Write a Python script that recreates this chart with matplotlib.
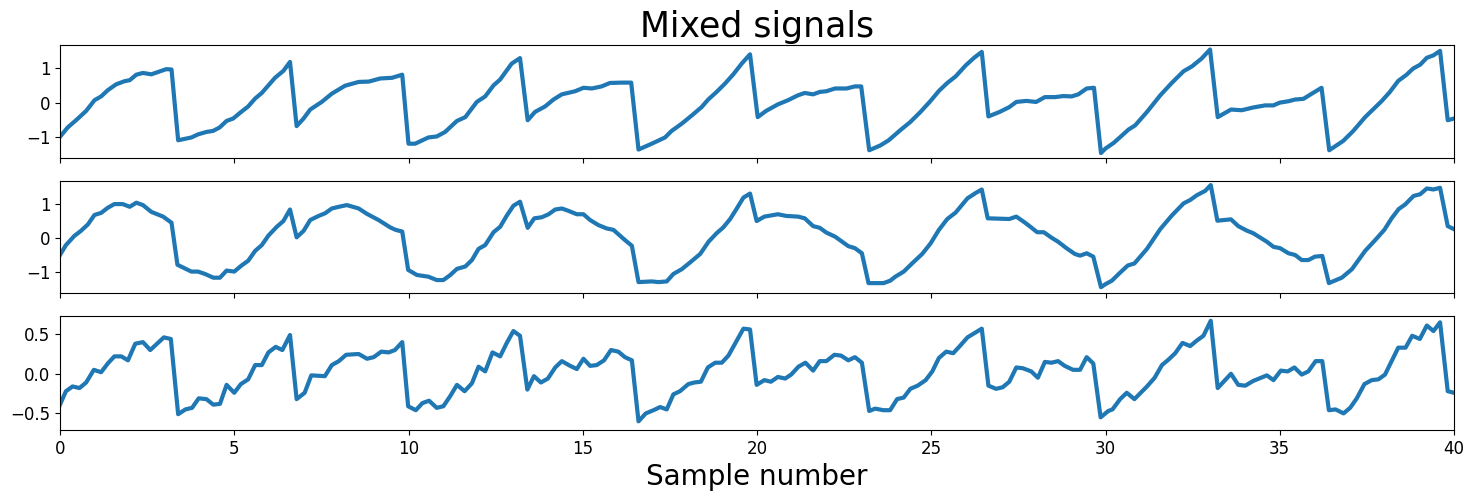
import matplotlib
matplotlib.use("Agg")
import matplotlib.pyplot as plt

# values (sample number, amplitude)
x1 = [0, 0.22, 0.46, 0.75, 0.99, 1.18, 1.37, 1.61, 1.85, 2.0, 2.19, 2.38, 2.62, 2.91, 3.05, 3.2,
      3.39, 3.77, 3.96, 4.2, 4.39, 4.58, 4.78, 4.97, 5.16, 5.4, 5.6, 5.79, 5.98, 6.17, 6.41, 6.6,
      6.79, 6.99, 7.18, 7.51, 7.8, 8.18, 8.57, 8.86, 9.19, 9.53, 9.82,
      10.0, 10.19, 10.57, 10.81, 11.05, 11.39, 11.63, 11.96, 12.2, 12.44, 12.63, 12.96, 13.2,
      13.42, 13.63, 13.92, 14.16, 14.4, 14.78, 15.02, 15.26, 15.54, 15.78, 16.12, 16.39,
      16.6, 16.98, 17.36, 17.55, 17.84, 18.13, 18.41, 18.6, 18.84, 19.08, 19.32, 19.56, 19.8,
      20.02, 20.26, 20.6, 20.89, 21.17, 21.37, 21.61, 21.8, 21.99, 22.24, 22.57, 22.81, 22.99,
      23.22, 23.54, 23.78, 24.11, 24.4, 24.69, 24.98, 25.22, 25.46, 25.7, 25.99, 26.23, 26.45,
      26.64, 26.96, 27.24, 27.44, 27.73, 28.01, 28.26, 28.55, 28.79, 29.03, 29.22, 29.46, 29.67,
      29.87, 30.0, 30.23, 30.42, 30.66, 30.85, 31.19, 31.57, 31.9, 32.24, 32.48, 32.76, 33.0,
      33.22, 33.6, 33.91, 34.24, 34.58, 34.82, 35.0, 35.25, 35.44, 35.68, 35.92, 36.2,
      36.42, 36.82, 37.11, 37.45, 37.93, 38.16, 38.4, 38.64, 38.83, 39.03, 39.22, 39.41, 39.6,
      39.82, 40.0]
y1 = [-0.99, -0.72, -0.51, -0.24, 0.07, 0.18, 0.36, 0.53, 0.62, 0.65, 0.81, 0.86, 0.82, 0.92, 0.97, 0.96,
      -1.09, -1.01, -0.92, -0.85, -0.82, -0.72, -0.53, -0.46, -0.30, -0.11, 0.12, 0.28, 0.50, 0.72, 0.92, 1.18,
      -0.68, -0.46, -0.20, 0.02, 0.26, 0.49, 0.60, 0.61, 0.70, 0.72, 0.81,
      -1.19, -1.19, -1.01, -0.98, -0.85, -0.53, -0.42, 0.02, 0.18, 0.50, 0.67, 1.13, 1.29,
      -0.51, -0.27, -0.11, 0.09, 0.24, 0.33, 0.43, 0.41, 0.47, 0.57, 0.58, 0.58,
      -1.36, -1.19, -1.01, -0.82, -0.61, -0.37, -0.13, 0.09, 0.31, 0.55, 0.82, 1.13, 1.40,
      -0.42, -0.24, -0.05, 0.07, 0.21, 0.28, 0.24, 0.31, 0.33, 0.41, 0.41, 0.47, 0.47,
      -1.38, -1.24, -1.09, -0.80, -0.56, -0.27, 0.05, 0.34, 0.57, 0.76, 1.08, 1.30, 1.47,
      -0.40, -0.27, -0.13, 0.02, 0.05, 0.02, 0.16, 0.16, 0.19, 0.18, 0.24, 0.41, 0.43,
      -1.46, -1.33, -1.17, -1.00, -0.78, -0.66, -0.27, 0.21, 0.57, 0.91, 1.05, 1.28, 1.54,
      -0.42, -0.20, -0.22, -0.14, -0.08, -0.08, 0.00, 0.04, 0.09, 0.11, 0.26, 0.43,
      -1.38, -1.11, -0.82, -0.42, 0.05, 0.31, 0.63, 0.81, 0.99, 1.10, 1.30, 1.37, 1.50,
      -0.51, -0.46]

x2 = [0, 0.17, 0.41, 0.6, 0.8, 0.99, 1.18, 1.37, 1.56, 1.8, 2.0, 2.19, 2.38, 2.62, 2.96, 3.2,
      3.37, 3.77, 3.96, 4.16, 4.4, 4.59, 4.78, 5.0, 5.21, 5.4, 5.6, 5.79, 5.98, 6.22, 6.41, 6.6,
      6.79, 6.99, 7.18, 7.42, 7.61, 7.8, 8.0, 8.23, 8.57, 8.81, 9.14, 9.48, 9.63, 9.82,
      9.99, 10.24, 10.57, 10.81, 11.0, 11.2, 11.39, 11.63, 11.82, 12.01, 12.2, 12.44, 12.63,
      12.82, 13.01, 13.2,
      13.42, 13.61, 13.82, 14.02, 14.21, 14.4, 14.59, 14.83, 15.02, 15.21, 15.45, 15.69, 15.88,
      16.21, 16.41,
      16.6, 16.98, 17.17, 17.41, 17.6, 17.84, 18.08, 18.37, 18.61, 18.84, 19.03, 19.23, 19.42,
      19.61, 19.8,
      19.99, 20.21, 20.6, 20.84, 21.18, 21.37, 21.61, 21.8, 21.99, 22.24, 22.62, 22.81, 23.01,
      23.2, 23.63, 23.82, 23.97, 24.21, 24.45, 24.74, 24.98, 25.22, 25.46, 25.7, 26.04, 26.28, 26.45,
      26.62, 27.24, 27.44, 27.68, 27.87, 28.04, 28.23, 28.45, 28.64, 28.88, 29.12, 29.27, 29.46, 29.65,
      29.87, 30.0, 30.18, 30.42, 30.64, 30.83, 31.19, 31.57, 31.9, 32.24, 32.43, 32.62, 32.86, 33.02,
      33.21, 33.6, 33.81, 34.05, 34.24, 34.63, 34.82, 35.01, 35.25, 35.44, 35.63, 35.82, 36.01, 36.22,
      36.41, 36.78, 37.07, 37.45, 37.74, 38.0, 38.21, 38.41, 38.6, 38.84, 39.03, 39.22, 39.41, 39.6,
      39.82, 40.0]
y2 = [-0.49, -0.20, 0.07, 0.22, 0.41, 0.69, 0.75, 0.90, 1.01, 1.01, 0.93, 1.05, 0.98, 0.78, 0.64, 0.46,
      -0.78, -0.98, -0.98, -1.05, -1.16, -1.16, -0.95, -0.98, -0.80, -0.66, -0.37, -0.20, 0.08, 0.34, 0.51, 0.85,
      0.03, 0.22, 0.54, 0.66, 0.74, 0.88, 0.93, 0.98, 0.88, 0.72, 0.54, 0.32, 0.25, 0.20,
      -0.93, -1.08, -1.13, -1.23, -1.23, -1.08, -0.90, -0.83, -0.64, -0.31, -0.20, 0.18, 0.34,
      0.67, 0.96, 1.08,
      0.31, 0.59, 0.62, 0.71, 0.85, 0.88, 0.81, 0.71, 0.71, 0.54, 0.39, 0.29, 0.25,
      -0.05, -0.22,
      -1.29, -1.27, -1.29, -1.27, -1.05, -0.91, -0.71, -0.46, -0.10, 0.15, 0.32, 0.57, 0.88,
      1.20, 1.32,
      0.51, 0.64, 0.71, 0.66, 0.64, 0.59, 0.36, 0.31, 0.17, 0.05, -0.23, -0.29, -0.44,
      -1.32, -1.32, -1.25, -1.13, -0.98, -0.74, -0.46, -0.15, 0.25, 0.57, 0.76, 1.18, 1.34, 1.44,
      0.59, 0.57, 0.64, 0.47, 0.32, 0.18, 0.18, 0.02, -0.10, -0.29, -0.46, -0.51, -0.44, -0.54,
      -1.44, -1.35, -1.25, -1.01, -0.80, -0.74, -0.31, 0.27, 0.67, 1.03, 1.13, 1.27, 1.40, 1.57,
      0.52, 0.56, 0.36, 0.23, 0.15, -0.10, -0.25, -0.29, -0.44, -0.49, -0.64, -0.64, -0.54, -0.52,
      -1.32, -1.16, -0.91, -0.37, -0.05, 0.25, 0.59, 0.86, 1.00, 1.25, 1.30, 1.47, 1.44, 1.49,
      0.36, 0.27]

x3 = [0, 0.17, 0.36, 0.56, 0.75, 0.97, 1.18, 1.37, 1.56, 1.76, 1.95, 2.16, 2.38, 2.59, 2.76, 2.98, 3.18,
      3.39, 3.6, 3.79, 3.98, 4.2, 4.4, 4.59, 4.78, 5.0, 5.19, 5.4, 5.6, 5.79, 5.98, 6.19, 6.38, 6.6,
      6.79, 7.02, 7.21, 7.6, 7.8, 8.0, 8.21, 8.57, 8.81, 9.0, 9.22, 9.43, 9.61, 9.82,
      9.99, 10.21, 10.4, 10.59, 10.81, 11.0, 11.2, 11.39, 11.61, 11.82, 12.01, 12.2, 12.41, 12.63,
      12.82, 13.01, 13.2,
      13.41, 13.6, 13.8, 14.0, 14.21, 14.4, 14.64, 14.83, 15.02, 15.21, 15.4, 15.61, 15.81, 16.02,
      16.21, 16.41,
      16.6, 16.81, 17.03, 17.22, 17.41, 17.6, 17.79, 18.03, 18.2, 18.39, 18.59, 18.8, 18.99, 19.18,
      19.37, 19.61, 19.8,
      19.99, 20.21, 20.4, 20.6, 20.81, 20.98, 21.19, 21.39, 21.61, 21.8, 21.99, 22.22, 22.41, 22.62,
      22.81, 23.01,
      23.22, 23.39, 23.63, 23.82, 24.02, 24.21, 24.4, 24.61, 24.84, 25.03, 25.22, 25.43, 25.63, 25.82,
      26.04, 26.45,
      26.64, 26.86, 27.05, 27.24, 27.44, 27.63, 27.87, 28.06, 28.26, 28.45, 28.64, 28.83, 29.07, 29.27,
      29.46, 29.65,
      29.86, 30.08, 30.2, 30.42, 30.61, 30.83, 31.19, 31.41, 31.62, 31.81, 32.0, 32.21, 32.43, 32.62,
      32.81, 33.02,
      33.22, 33.6, 33.81, 34.01, 34.24, 34.63, 34.82, 35.03, 35.23, 35.42, 35.63, 35.82, 36.03, 36.22,
      36.41, 36.6, 36.83, 37.02, 37.21, 37.43, 37.64, 37.83, 38.02, 38.21, 38.4, 38.61, 38.8, 39.02,
      39.22, 39.41, 39.6,
      39.82, 40.0]
y3 = [-0.39, -0.22, -0.16, -0.18, -0.11, 0.05, 0.02, 0.13, 0.22, 0.22, 0.17, 0.38, 0.40, 0.30, 0.37, 0.46, 0.44,
      -0.51, -0.45, -0.43, -0.31, -0.32, -0.39, -0.38, -0.14, -0.24, -0.13, -0.07, 0.11, 0.11, 0.27, 0.34, 0.30, 0.49,
      -0.32, -0.24, -0.02, -0.03, 0.11, 0.16, 0.24, 0.25, 0.19, 0.21, 0.28, 0.27, 0.30, 0.40,
      -0.41, -0.46, -0.37, -0.34, -0.43, -0.41, -0.28, -0.14, -0.22, -0.12, 0.09, 0.03, 0.27, 0.22,
      0.39, 0.54, 0.48,
      -0.20, -0.03, -0.11, -0.06, 0.08, 0.16, 0.10, 0.06, 0.19, 0.10, 0.11, 0.17, 0.30, 0.28,
      0.21, 0.17,
      -0.60, -0.50, -0.46, -0.42, -0.45, -0.26, -0.22, -0.13, -0.11, -0.10, 0.08, 0.14, 0.14, 0.23,
      0.38, 0.57, 0.56,
      -0.14, -0.08, -0.10, -0.04, -0.06, -0.01, 0.09, 0.14, 0.04, 0.16, 0.16, 0.24, 0.23, 0.17,
      0.21, 0.14,
      -0.47, -0.44, -0.46, -0.46, -0.32, -0.30, -0.19, -0.15, -0.08, 0.03, 0.20, 0.28, 0.26, 0.35,
      0.46, 0.57,
      -0.15, -0.19, -0.17, -0.10, 0.08, 0.07, 0.03, -0.05, 0.15, 0.14, 0.16, 0.10, 0.05, 0.05,
      0.21, 0.13,
      -0.55, -0.47, -0.45, -0.32, -0.24, -0.32, -0.16, -0.05, 0.11, 0.18, 0.26, 0.39, 0.35, 0.42,
      0.48, 0.67,
      -0.18, 0.00, -0.14, -0.15, -0.09, -0.02, -0.08, 0.04, 0.03, 0.08, -0.01, 0.03, 0.16, 0.16,
      -0.46, -0.45, -0.50, -0.43, -0.31, -0.13, -0.08, -0.07, -0.01, 0.16, 0.33, 0.33, 0.48, 0.44,
      0.61, 0.54, 0.65,
      -0.22, -0.24]

series = [(x1, y1), (x2, y2), (x3, y3)]
ylims = [(-1.59, 1.67), (-1.62, 1.69), (-0.71, 0.73)]
yticks = [[-1, 0, 1], [-1, 0, 1], [-0.5, 0.0, 0.5]]

W, H = 1473, 501
fig = plt.figure(figsize=(W / 100, H / 100), dpi=100)
boxes = [(45, 157.5), (181, 293.3), (316, 430)]  # top/bottom in pixels
axes = []
for i, (top, bot) in enumerate(boxes):
    ax = fig.add_axes([60 / W, 1 - bot / H, (1454 - 60) / W, (bot - top) / H],
                      sharex=axes[0] if axes else None)
    xs, ys = series[i]
    ax.plot(xs, ys, color="#1f77b4", lw=3)
    ax.set_xlim(0, 40)
    ax.set_ylim(*ylims[i])
    ax.set_yticks(yticks[i])
    ax.tick_params(labelsize=12)
    if i < 2:
        ax.tick_params(labelbottom=False)
    axes.append(ax)

axes[0].set_title("Mixed signals", fontsize=25)
axes[2].set_xlabel("Sample number", fontsize=20)
axes[2].set_yticklabels(["\u22120.5", "0.0", "0.5"])

fig.savefig("out.png", dpi=100)
